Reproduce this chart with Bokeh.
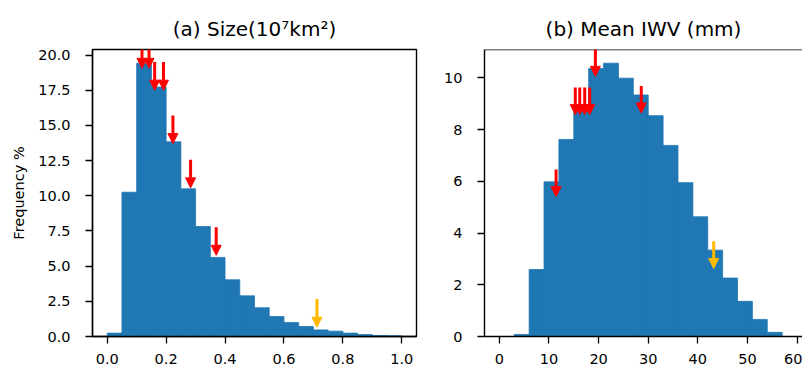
from bokeh.plotting import figure
from bokeh.models import (ColumnDataSource, Arrow, NormalHead, FixedTicker,
                          PrintfTickFormatter, Span, Range1d)
from bokeh.layouts import row
from bokeh.embed import file_html
from bokeh.resources import INLINE

# ---------------- data ----------------
size_left = [0.00, 0.05, 0.10, 0.15, 0.20, 0.25, 0.30, 0.35, 0.40, 0.45,
             0.50, 0.55, 0.60, 0.65, 0.70, 0.75, 0.80, 0.85, 0.90, 0.95]
size_right = [0.05, 0.10, 0.15, 0.20, 0.25, 0.30, 0.35, 0.40, 0.45, 0.50,
              0.55, 0.60, 0.65, 0.70, 0.75, 0.80, 0.85, 0.90, 0.95, 1.00]
size_freq = [0.24, 10.25, 19.42, 17.72, 13.83, 10.49, 7.81, 5.62, 4.03, 2.89,
             2.04, 1.42, 1.00, 0.71, 0.47, 0.38, 0.24, 0.14, 0.07, 0.05]

iwv_left = [0, 3, 6, 9, 12, 15, 18, 21, 24, 27,
            30, 33, 36, 39, 42, 45, 48, 51, 54, 57]
iwv_right = [3, 6, 9, 12, 15, 18, 21, 24, 27, 30,
             33, 36, 39, 42, 45, 48, 51, 54, 57, 60]
iwv_freq = [0.0, 0.08, 2.59, 5.98, 7.62, 8.70, 10.36, 10.57, 9.99, 9.34,
            8.54, 7.39, 5.95, 4.63, 3.34, 2.26, 1.36, 0.66, 0.16, 0.0]

size_red_x = [0.118, 0.142, 0.161, 0.191, 0.223, 0.283, 0.370]
size_red_tip = [19.05, 19.05, 17.5, 17.5, 13.71, 10.56, 5.77]
size_yel_x = [0.712]
size_yel_tip = [0.66]

iwv_red_x = [11.43, 15.3, 16.2, 17.2, 18.2, 19.35, 28.6]
iwv_red_tip = [5.41, 8.58, 8.58, 8.58, 8.58, 10.06, 8.64]
iwv_yel_x = [43.2]
iwv_yel_tip = [2.63]

size_xticks = [0.0, 0.2, 0.4, 0.6, 0.8, 1.0]
size_yticks = [0.0, 2.5, 5.0, 7.5, 10.0, 12.5, 15.0, 17.5, 20.0]
iwv_xticks = [0, 10, 20, 30, 40, 50, 60]
iwv_yticks = [0, 2, 4, 6, 8, 10]

# ---------------- styling ----------------
BAR = "#1f77b4"
RED = "#ff0000"
YEL = "#ffb900"
FONT = "DejaVu Sans"
TICK_FS = "14.5px"


def style(p, xticks, yticks, xfmt, yfmt):
    p.grid.visible = False
    p.title.align = "center"
    p.title.text_font = FONT
    p.title.text_font_size = "20px"
    p.title.text_font_style = "normal"
    p.title.text_color = "black"
    p.title.padding = 4
    for ax in (p.xaxis[0], p.yaxis[0]):
        ax.axis_line_color = "black"
        ax.axis_line_width = 1.4
        ax.major_tick_line_color = "black"
        ax.major_tick_line_width = 1.3
        ax.major_tick_out = 7
        ax.major_tick_in = 0
        ax.minor_tick_line_color = None
        ax.major_label_text_font = FONT
        ax.major_label_text_font_size = TICK_FS
        ax.major_label_text_color = "black"
    p.xaxis[0].ticker = FixedTicker(ticks=xticks)
    p.yaxis[0].ticker = FixedTicker(ticks=yticks)
    p.xaxis[0].formatter = PrintfTickFormatter(format=xfmt)
    p.yaxis[0].formatter = PrintfTickFormatter(format=yfmt)
    p.xaxis[0].major_label_standoff = 10
    p.yaxis[0].major_label_standoff = 15


def arrows(p, xs, tips, length, color):
    src = ColumnDataSource(dict(x=xs, y0=[t + length for t in tips], y1=tips))
    p.add_layout(Arrow(end=NormalHead(size=10, fill_color=color, line_color=color,
                                      line_width=1),
                       x_start="x", y_start="y0", x_end="x", y_end="y1",
                       source=src, line_color=color, line_width=3))


# ---------------- panel (a) ----------------
size_top = max(size_freq) * 1.05
p1 = figure(title="(a) Size(10⁷km²)", output_backend="svg", toolbar_location=None,
            frame_width=324, frame_height=287,
            min_border_left=92, min_border_right=10, min_border_top=49,
            min_border_bottom=33,
            x_range=Range1d(-0.05, 1.05), y_range=Range1d(0, size_top))
p1.quad(left=size_left, right=size_right, bottom=0, top=size_freq,
        fill_color=BAR, line_color=BAR, line_width=0.8)
style(p1, size_xticks, size_yticks, "%.1f", "%.1f")
p1.outline_line_color = "black"
p1.outline_line_width = 1.4
p1.outline_line_alpha = 1.0
p1.yaxis[0].axis_label = "Frequency %"
p1.yaxis[0].axis_label_text_font = FONT
p1.yaxis[0].axis_label_text_font_size = "14.5px"
p1.yaxis[0].axis_label_text_font_style = "normal"
p1.yaxis[0].axis_label_text_color = "black"
p1.yaxis[0].axis_label_standoff = 8
arrows(p1, size_red_x, size_red_tip, 2.0, RED)
arrows(p1, size_yel_x, size_yel_tip, 2.0, YEL)

# ---------------- panel (b) ----------------
iwv_top = max(iwv_freq) * 1.05
p2 = figure(title="(b) Mean IWV (mm)", output_backend="svg", toolbar_location=None,
            frame_width=318, frame_height=287,
            min_border_left=58, min_border_right=0, min_border_top=49,
            min_border_bottom=33,
            x_range=Range1d(-3, 61.1), y_range=Range1d(0, iwv_top))
p2.quad(left=iwv_left, right=iwv_right, bottom=0, top=iwv_freq,
        fill_color=BAR, line_color=BAR, line_width=0.8)
style(p2, iwv_xticks, iwv_yticks, "%d", "%d")
p2.outline_line_color = None
p2.add_layout(Span(location=iwv_top, dimension="width", line_color="black",
                   line_width=1.4))
arrows(p2, iwv_red_x, iwv_red_tip, 1.05, RED)
arrows(p2, iwv_yel_x, iwv_yel_tip, 1.05, YEL)

layout = row(p1, p2)
open("out.html", "w").write(file_html(layout, INLINE))
